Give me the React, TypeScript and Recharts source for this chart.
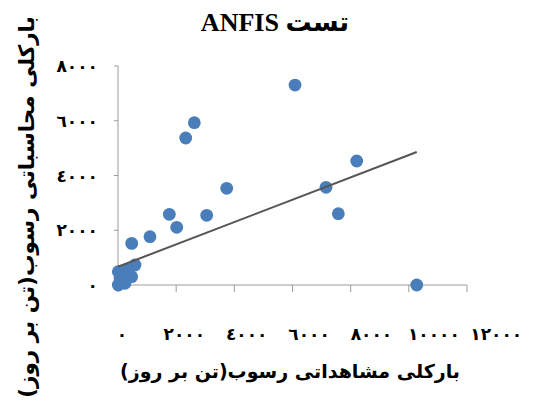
import React from 'react';
import { ComposedChart, Scatter, XAxis, YAxis } from 'recharts';

// Observed (x) vs computed (y) sediment load, ton/day
const observed = [6087, 2624, 2328, 8208, 7153, 3738, 7576, 1764, 3050, 2019, 1100, 471, 10272, 585, 10, 300, 470, 10, 240, 70];
const computed = [7305, 5928, 5369, 4529, 3568, 3532, 2604, 2582, 2545, 2107, 1764, 1520, 0, 730, 486, 548, 303, 0, 62, 245];

// Linear trend line end points
const trendX = [0, 10272];
const trendY = [668, 4858];

const xTicks = [0, 2000, 4000, 6000, 8000, 10000, 12000];
const xTickLabels = ['٠', '٢٠٠٠', '٤٠٠٠', '٦٠٠٠', '٨٠٠٠', '١٠٠٠٠', '١٢٠٠٠'];
const yTicks = [0, 2000, 4000, 6000, 8000];
const yTickLabels = ['٠', '٢٠٠٠', '٤٠٠٠', '٦٠٠٠', '٨٠٠٠'];

const title = 'تست ANFIS';
const xTitle = 'بارکلی مشاهداتی رسوب(تن بر روز)';
const yTitle = 'بارکلی محاسباتی رسوب(تن بر روز)';

const points = observed.map((x, i) => ({ x, y: computed[i] }));
const trend = trendX.map((x, i) => ({ x, y: trendY[i] }));

const AXIS = '#9c9c9c';
const DOT = '#4a7ebb';
const FONT = '"DejaVu Sans", sans-serif';

const XTick = (props: any) => {
  const { x, y, payload, index } = props;
  const i = xTicks.indexOf(payload.value);
  return (
    <text x={x + 4 + 4.2 * (i >= 0 ? i : index)} y={y + 46} textAnchor="middle" fontFamily={FONT}
      fontWeight="bold" fontSize={17} fill="#000" direction="ltr">
      {xTickLabels[i]}
    </text>
  );
};

const YTick = (props: any) => {
  const { y, payload } = props;
  const i = yTicks.indexOf(payload.value);
  return (
    <text x={98} y={y} textAnchor="end" dominantBaseline="central" fontFamily={FONT}
      fontWeight="bold" fontSize={17} fill="#000" direction="ltr">
      {yTickLabels[i]}
    </text>
  );
};

const Dot = (p: any) => <circle cx={p.cx} cy={p.cy} r={6.4} fill={DOT} />;
const NoDot = () => <g />;

export default function App() {
  return (
    <div style={{ position: 'absolute', left: 0, top: 0, width: 537, height: 412, background: '#fff' }}>
      <ComposedChart width={537} height={412}
        margin={{ top: 66, right: 70, bottom: 67, left: 18 }}>
        <XAxis type="number" dataKey="x" domain={[0, 12000]} ticks={xTicks} height={60}
          stroke={AXIS} tickSize={7} tick={<XTick />} interval={0} />
        <YAxis type="number" dataKey="y" domain={[0, 8000]} ticks={yTicks} width={100}
          stroke={AXIS} tickSize={4} tick={<YTick />} interval={0} />
        <Scatter data={points} shape={<Dot />} isAnimationActive={false} />
        <Scatter data={trend} shape={<NoDot />} line={{ stroke: '#555', strokeWidth: 2 }}
          isAnimationActive={false} />
      </ComposedChart>
      <svg width={537} height={412} style={{ position: 'absolute', left: 0, top: 0, pointerEvents: 'none' }}>
        <text x={275} y={31} textAnchor="middle" direction="rtl" fontFamily='"Liberation Serif", "DejaVu Sans", serif'
          fontWeight="bold" fontSize={26} fill="#000">{title}</text>
        <text x={290} y={378} textAnchor="middle" direction="rtl" fontFamily={FONT}
          fontWeight="bold" fontSize={19} fill="#000">{xTitle}</text>
        <text x={0} y={0} transform="translate(34 207) rotate(-90)" textAnchor="middle" direction="rtl"
          fontFamily={FONT} fontWeight="bold" fontSize={21.5} fill="#000">{yTitle}</text>
      </svg>
    </div>
  );
}
